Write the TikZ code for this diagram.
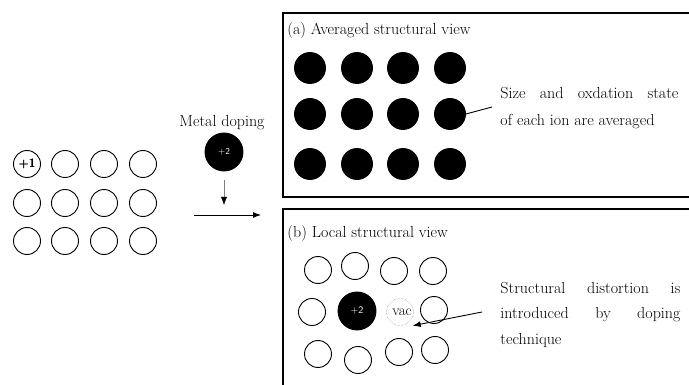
\documentclass[tikz,border=0pt]{standalone}
\usetikzlibrary{arrows.meta}
\tikzset{%
  ion/.style      = {shape=circle, draw, inner sep=0pt,%
                     minimum size=27pt},%
  avgion/.style   = {ion, fill=black, minimum size=31pt},%
  dopant/.style   = {ion, fill=black, text=white, minimum size=38pt,%
                     font=\sffamily\fontsize{10}{10}\selectfont},%
  vacancy/.style  = {ion, densely dotted, draw=black!55, thin},%
  caption/.style  = {anchor=base west, inner sep=0pt,%
                     font=\fontsize{16}{19}\selectfont}%
}

\begin{document}
\begin{tikzpicture}[x=1pt,y=-1pt,line width=0.9pt,>={Latex[length=8pt,width=6pt]}]
\clip (0,0) rectangle (689,385);
% host lattice
\foreach \r/\y in {1/164,2/203,3/241}
  \foreach \c/\x in {1/27,2/65,3/104,4/143}
    \node [ion] (h\r\c) at (\x,\y) {};
\node [font=\sffamily\bfseries\fontsize{12}{12}\selectfont,inner sep=0pt] (hcharge) at (h11) {+1};
% doping step
\node [anchor=base,inner sep=0pt,font=\fontsize{16}{19}\selectfont] (metal) at (222,127) {Metal doping};
\node [dopant,font=\sffamily\fontsize{9}{9}\selectfont] (dop) at (224,152) {+2};
\coordinate (dopend) at (224,205);
\draw [gray, thin, shorten <=9pt, -{Latex[color=black,length=8pt,width=6pt]}] (dop.south) -- (dopend);
\coordinate (mixin) at (194,215);
\coordinate (mixout) at (261,215);
\draw [->] (mixin) -- (mixout);
% (a) averaged view
\draw [line width=1.1pt] (700,13) -- (283,13) -- (283,197) -- (700,197);
\node [caption] (atitle) at (287,35) {(a) Averaged structural view};
\foreach \r/\y in {1/68,2/114,3/164}
  \foreach \c/\x in {1/310,2/357,3/403,4/450}
    \node [avgion] (a\r\c) at (\x,\y) {};
\node [caption] (aline1) at (500,99) {\makebox[178pt][s]{Size and oxdation state}};
\node [caption] (aline2) at (500,126) {of each ion are averaged};
\coordinate (avgtip) at (492,107);
\draw (a24.east) -- (avgtip);
% (b) local view
\draw [line width=1.1pt] (700,209) -- (283,209) -- (283,400);
\node [caption] (btitle) at (287,238) {(b) Local structural view};
\node [ion] (b11) at (318,270) {};
\node [ion] (b12) at (355,266) {};
\node [ion] (b13) at (394,271) {};
\node [ion] (b14) at (433,271) {};
\node [ion] (b21) at (312,312) {};
\node [dopant] (b22) at (357,311) {+2};
\node [vacancy,label={[font=\fontsize{15}{15}\selectfont,xshift=2pt]center:vac}] (vac) at (400,312) {};
\node [ion] (b24) at (434,310) {};
\node [ion] (b31) at (318,354) {};
\node [ion] (b32) at (358,360) {};
\node [ion] (b33) at (399,352) {};
\node [ion] (b34) at (435,350) {};
\node [caption] (bline1) at (500,294) {\makebox[180pt][s]{Structural distortion is}};
\node [caption] (bline2) at (500,319) {\makebox[180pt][s]{introduced by doping}};
\node [caption] (bline3) at (500,344) {technique};
\coordinate (disttail) at (482,312);
\coordinate (vactip) at ([shift={(3pt,-4pt)}]vac.south east);
\draw [->] (disttail) -- (vactip);
\end{tikzpicture}
\end{document}
